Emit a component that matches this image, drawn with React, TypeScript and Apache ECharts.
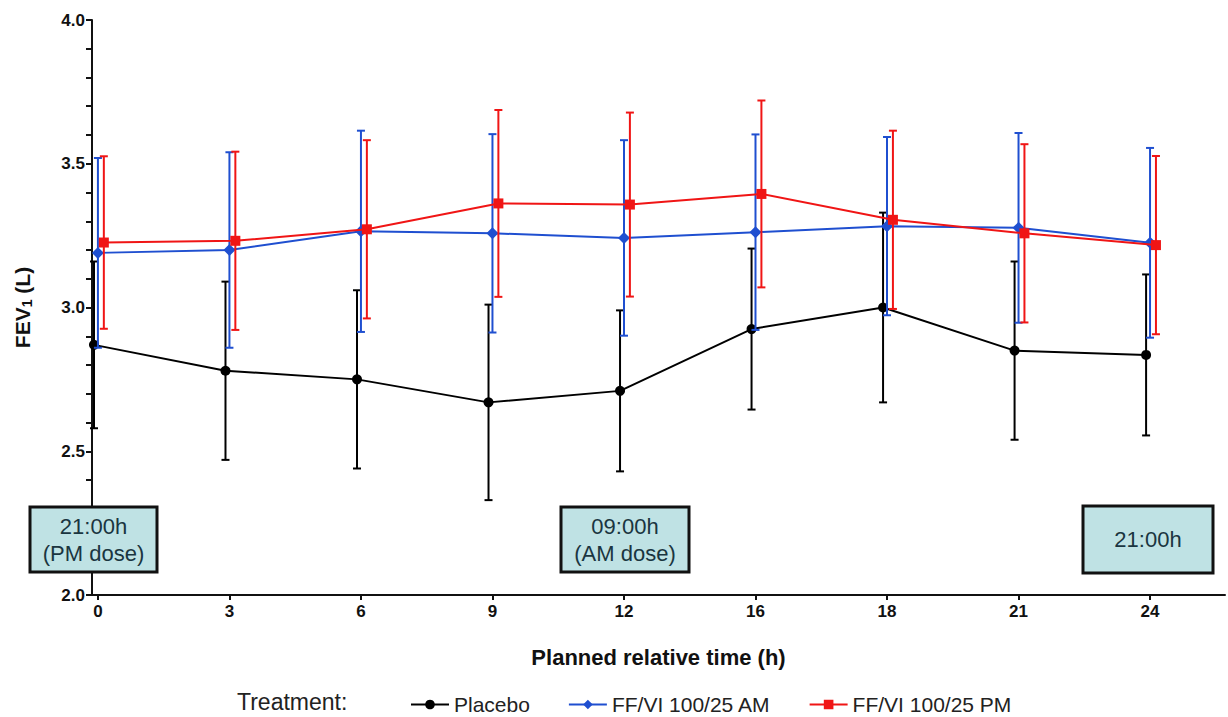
import React, { useEffect, useRef } from "react";
import * as echarts from "echarts";

const times = ["0", "3", "6", "9", "12", "16", "18", "21", "24"];
const yTicks = [2.0, 2.5, 3.0, 3.5, 4.0];

const placeboMean = [2.87, 2.78, 2.75, 2.67, 2.71, 2.925, 3.0, 2.85, 2.835];
const placeboSD = [0.29, 0.31, 0.31, 0.34, 0.28, 0.28, 0.33, 0.31, 0.28];

const amMean = [3.19, 3.2, 3.265, 3.258, 3.242, 3.262, 3.283, 3.277, 3.225];
const amSD = [0.33, 0.34, 0.35, 0.345, 0.34, 0.34, 0.31, 0.33, 0.33];

const pmMean = [3.226, 3.232, 3.272, 3.362, 3.358, 3.395, 3.305, 3.258, 3.217];
const pmSD = [0.3, 0.31, 0.31, 0.325, 0.32, 0.325, 0.31, 0.31, 0.31];

const seriesNames = ["Placebo", "FF/VI 100/25 AM", "FF/VI 100/25 PM"];
const colors = ["#000000", "#1f4fd0", "#f01515"];
const offsets = [-0.03, 0, 0.045];

const FONT = "Liberation Sans, Arial, sans-serif";
const tickRich = { t: { fontSize: 17, fontWeight: "bold", color: "#111", fontFamily: FONT } };

function errorSeries(mean: number[], sd: number[], offset: number, color: string, z: number) {
  const data = mean.map((m, i) => [i + offset, m - sd[i], m + sd[i]]);
  return {
    type: "custom",
    silent: true,
    z,
    renderItem: (params: any, api: any) => {
      const x = api.value(0);
      const lo = api.coord([x, api.value(1)]);
      const hi = api.coord([x, api.value(2)]);
      const hw = 4;
      const st = { stroke: color, lineWidth: 2 };
      return {
        type: "group",
        children: [
          { type: "line", shape: { x1: lo[0], y1: lo[1], x2: hi[0], y2: hi[1] }, style: st },
          { type: "line", shape: { x1: hi[0] - hw, y1: hi[1], x2: hi[0] + hw, y2: hi[1] }, style: st },
          { type: "line", shape: { x1: lo[0] - hw, y1: lo[1], x2: lo[0] + hw, y2: lo[1] }, style: st },
        ],
      };
    },
    encode: { x: 0, y: [1, 2] },
    data,
  };
}

function lineSeries(name: string, mean: number[], offset: number, color: string, symbol: string, size: number, z: number) {
  return {
    type: "line",
    name,
    z,
    data: mean.map((m, i) => [i + offset, m]),
    symbol,
    symbolSize: size,
    lineStyle: { color, width: 2 },
    itemStyle: { color },
  };
}

export default function App() {
  const ref = useRef<HTMLDivElement>(null);
  useEffect(() => {
    const chart = echarts.init(ref.current!, undefined, { renderer: "svg" });
    const boxText = { fontSize: 22, fill: "#1a3540", fontFamily: FONT, align: "center", verticalAlign: "middle", lineHeight: 27 };
    const box = (x: number, y: number, w: number, h: number, text: string) => ({
      type: "group",
      z: 100,
      children: [
        { type: "rect", z: 100, shape: { x, y, width: w, height: h }, style: { fill: "#bfe2e4", stroke: "#111", lineWidth: 3 } },
        { type: "text", z: 101, x: x + w / 2, y: y + h / 2, style: { ...boxText, text } },
      ],
    });
    chart.setOption({
      animation: false,
      textStyle: { fontFamily: FONT },
      grid: { left: 92, right: 3, top: 20, bottom: 122, containLabel: false },
      xAxis: {
        type: "value",
        min: -0.045,
        max: 8.57,
        name: "Planned relative time (h)",
        nameLocation: "middle",
        nameGap: 51,
        nameTextStyle: { fontSize: 22, fontWeight: "bold", color: "#111" },
        axisLine: { onZero: false, lineStyle: { color: "#111", width: 2 } },
        axisTick: { show: true, customValues: [0, 1, 2, 3, 4, 5, 6, 7, 8], length: 5, lineStyle: { color: "#111", width: 2 } },
        axisLabel: {
          customValues: [0, 1, 2, 3, 4, 5, 6, 7, 8],
          formatter: (v: number) => "{t|" + times[Math.round(v)] + "}",
          rich: tickRich,
          fontSize: 17,
          margin: 8,
        },
        splitLine: { show: false },
      },
      yAxis: {
        type: "value",
        min: yTicks[0],
        max: yTicks[yTicks.length - 1],
        interval: 0.1,
        name: "{a|FEV}{s|1}{a| (L)}",
        nameLocation: "middle",
        nameGap: 58,
        nameTextStyle: {
          rich: {
            a: { fontSize: 21, fontWeight: "bold", color: "#111" },
            s: { fontSize: 14, fontWeight: "bold", color: "#111", verticalAlign: "bottom", padding: [9, 0, 0, 0] },
          },
        },
        axisLine: { show: true, onZero: false, lineStyle: { color: "#111", width: 2 } },
        axisTick: { show: true, length: 6, lineStyle: { color: "#111", width: 2 } },
        axisLabel: {
          formatter: (v: number) => (Math.abs(v * 2 - Math.round(v * 2)) < 1e-6 ? "{t|" + v.toFixed(1) + "}" : ""),
          rich: tickRich,
          fontSize: 17,
          margin: 7,
        },
        splitLine: { show: false },
      },
      legend: {
        left: 405,
        top: 689,
        itemWidth: 38,
        itemHeight: 12,
        itemGap: 38,
        textStyle: { fontSize: 21, color: "#222" },
        data: seriesNames,
      },
      graphic: [
        { type: "text", left: 237, top: 690, style: { text: "Treatment:", fontSize: 23, fill: "#222", fontFamily: FONT } },
        box(30, 507, 127, 65, "21:00h\n(PM dose)"),
        box(561, 507, 128, 65, "09:00h\n(AM dose)"),
        box(1083, 506, 130, 67, "21:00h"),
      ],
      series: [
        errorSeries(placeboMean, placeboSD, offsets[0], colors[0], 1),
        lineSeries(seriesNames[0], placeboMean, offsets[0], colors[0], "circle", 10, 2),
        errorSeries(amMean, amSD, offsets[1], colors[1], 3),
        lineSeries(seriesNames[1], amMean, offsets[1], colors[1], "diamond", 12, 4),
        errorSeries(pmMean, pmSD, offsets[2], colors[2], 5),
        lineSeries(seriesNames[2], pmMean, offsets[2], colors[2], "rect", 10, 6),
      ],
    });
    return () => chart.dispose();
  }, []);
  return <div ref={ref} style={{ position: "absolute", left: 0, top: 0, width: 1228, height: 717 }} />;
}
